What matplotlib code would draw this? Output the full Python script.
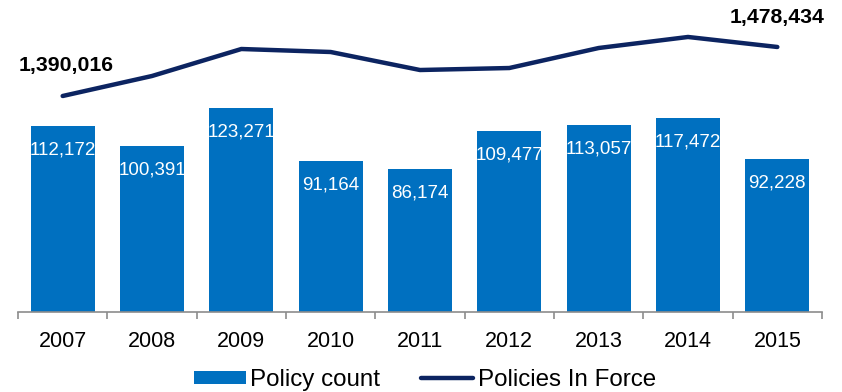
import matplotlib
matplotlib.use("Agg")
import matplotlib.pyplot as plt
from matplotlib.lines import Line2D
from matplotlib.patches import Patch
import numpy as np

years = ["2007", "2008", "2009", "2010", "2011", "2012", "2013", "2014", "2015"]
policy_count = [112172, 100391, 123271, 91164, 86174, 109477, 113057, 117472, 92228]
policies_in_force = [1390016, 1426100, 1474800, 1469400, 1436900, 1440500, 1476600, 1496500, 1478434]

BAR_COLOR = "#0070C0"
LINE_COLOR = "#0C2461"

plt.rcParams["font.family"] = ["Liberation Sans", "DejaVu Sans"]

W, H = 842, 392
fig = plt.figure(figsize=(W / 100, H / 100), dpi=100)
ax_left, ax_right = 18 / W, 822 / W
ax_bottom = (H - 312) / H
ax_top = (H - 10) / H
ax = fig.add_axes([ax_left, ax_bottom, ax_right - ax_left, ax_top - ax_bottom])

x = np.arange(len(years))
bars = ax.bar(x, policy_count, width=0.72, color=BAR_COLOR, zorder=2)
ax.set_xlim(-0.5, len(years) - 0.5)
ax.set_ylim(0, 182400)

# value labels inside the bars, clipped to each bar
for rect, v in zip(bars, policy_count):
    t = ax.annotate(f"{v:,}", xy=(rect.get_x() + rect.get_width() / 2, v),
                    xytext=(0, -24), textcoords="offset pixels",
                    ha="center", va="center", color="white", fontsize=13.5, zorder=3)
    t.set_clip_path(rect)

# category axis
for s in ["top", "right", "left"]:
    ax.spines[s].set_visible(False)
ax.spines["bottom"].set_color("#8c8c8c")
ax.spines["bottom"].set_linewidth(1.2)
ax.set_yticks([])
ax.set_xticks(x)
ax.set_xticklabels(years, fontsize=15.5)
ax.tick_params(axis="x", length=0, pad=14)
ax.set_xticks(np.arange(-0.5, len(years)), minor=True)
ax.tick_params(axis="x", which="minor", length=5, width=1.2, color="#8c8c8c", direction="out")

# secondary axis for the line
ax2 = ax.twinx()
ax2.set_ylim(1000352, 1000352 + 302 * 1804)
ax2.plot(x, policies_in_force, color=LINE_COLOR, linewidth=3.2, solid_capstyle="round", zorder=4)
ax2.axis("off")

ax2.annotate(f"{policies_in_force[0]:,}", xy=(x[0], policies_in_force[0]),
             xytext=(3, 30), textcoords="offset pixels",
             ha="center", va="center", fontsize=15.3, fontweight="bold", color="black")
ax2.annotate(f"{policies_in_force[-1]:,}", xy=(x[-1], policies_in_force[-1]),
             xytext=(0, 29), textcoords="offset pixels",
             ha="center", va="center", fontsize=15.3, fontweight="bold", color="black")

handles = [Patch(facecolor=BAR_COLOR, edgecolor="none"),
           Line2D([0], [0], color=LINE_COLOR, linewidth=3.2, solid_capstyle="round")]
fig.legend(handles, ["Policy count", "Policies In Force"], loc="center",
           bbox_to_anchor=(425 / W, (H - 380) / H), ncol=2, frameon=False, fontsize=17.4,
           handlelength=2.15, handletextpad=0.2, columnspacing=1.7, handleheight=0.5,
           borderpad=0, borderaxespad=0)

fig.savefig("out.png", dpi=100)
